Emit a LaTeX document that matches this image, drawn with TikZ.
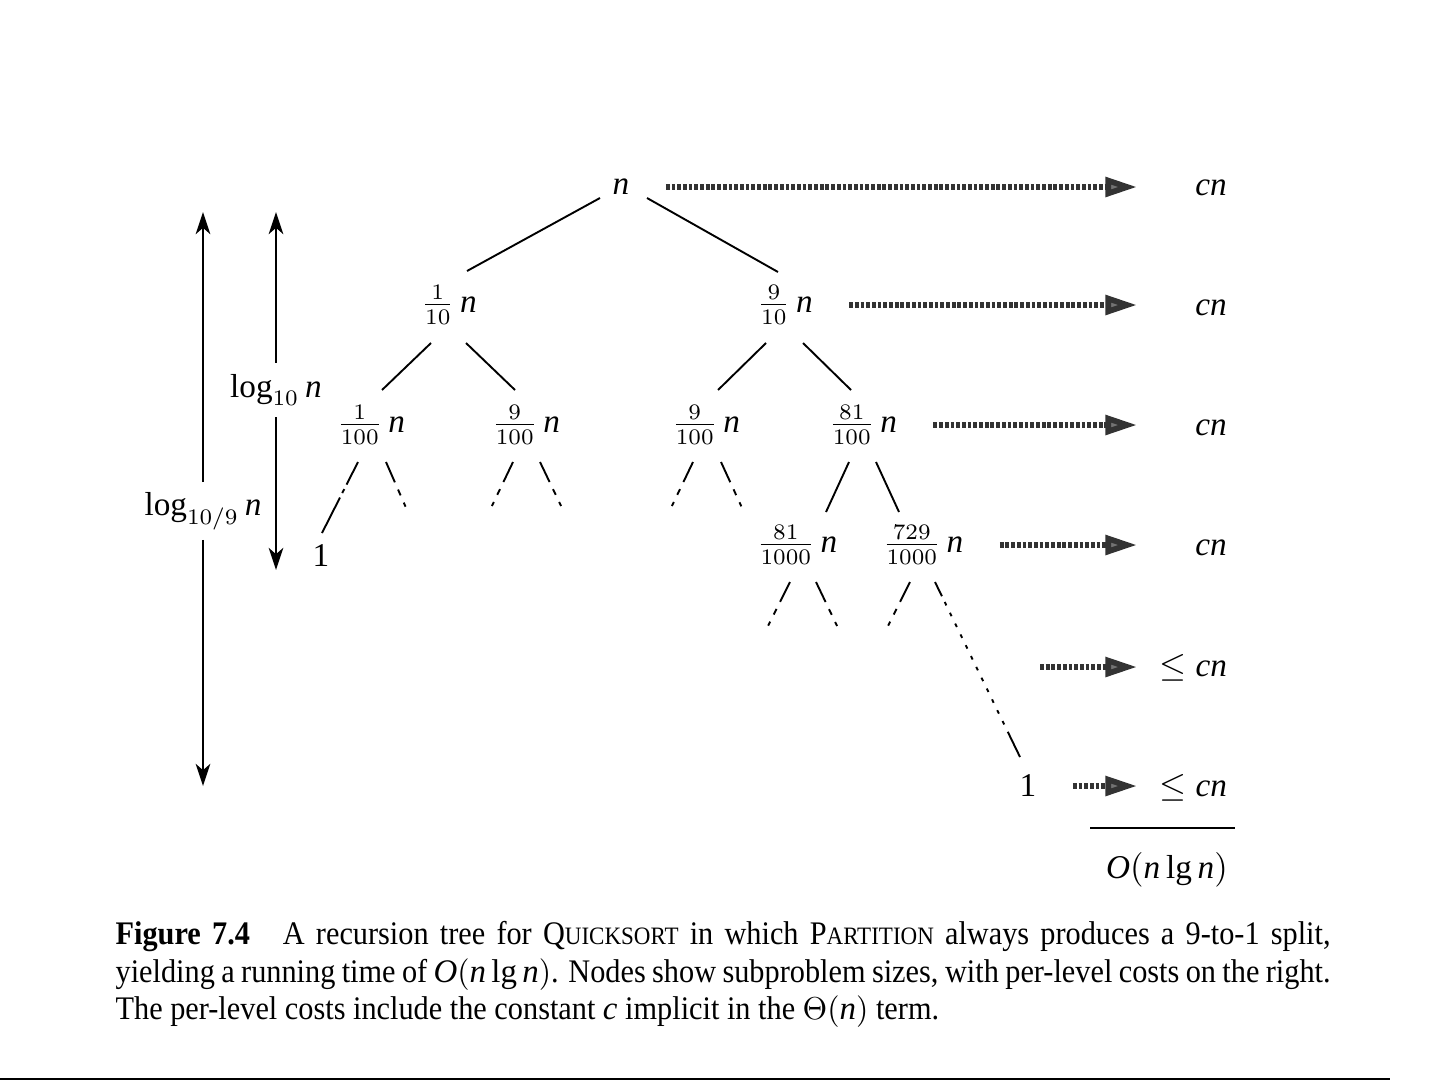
\documentclass[tikz,border=0pt]{standalone}
\usepackage{amsmath}
\usepackage{fontspec}
\setmainfont{Liberation Serif}
\newfontfamily\capfont{Liberation Serif}[FakeStretch=0.92]
\usetikzlibrary{arrows.meta}

\newcommand{\nn}{\mathit{n}}
\newcommand{\fakesc}[2]{#1{\fontsize{7.9}{9}\selectfont #2}}

\begin{document}
\begin{tikzpicture}[x=0.3158pt, y=-0.3158pt,
    every node/.style={font=\fontsize{10.5}{12.6}\selectfont},
    edge/.style={line width=0.6pt},
    stub/.style={edge, dash pattern=on 7pt off 2.5pt on 2pt off 2.5pt on 1.4pt off 2.5pt on 0.9pt off 30pt},
    cost/.style={line width=1.8pt, black!80, dash pattern=on 1.2pt off 0.6pt, shorten <=8pt,
        -{Triangle[length=10pt,width=6pt,fill=black!55]}},
    height/.style={line width=0.5pt, -{Stealth[length=7pt,width=4.6pt,inset=2pt]}}]
    \useasboundingbox (0,0) rectangle (1441,1081);

    % the tree
    \node (root) at (621,187) {$\nn$};
    \node (l1) at (449,305) {$\frac{1}{10}\,\nn$};
    \node (r1) at (785,305) {$\frac{9}{10}\,\nn$};
    \node (a) at (371,425) {$\frac{1}{100}\,\nn$};
    \node (b) at (526,425) {$\frac{9}{100}\,\nn$};
    \node (c) at (706,425) {$\frac{9}{100}\,\nn$};
    \node (d) at (863,425) {$\frac{81}{100}\,\nn$};
    \node (e) at (797,545) {$\frac{81}{1000}\,\nn$};
    \node (f) at (923,545) {$\frac{729}{1000}\,\nn$};
    \node (leafl) at (321,556) {1};
    \node (leafr) at (1028,786) {1};

    % edges between the levels
    \draw[edge] ([shift={(-21,11)}]root.center) -- ([shift={(18,-34)}]l1.center);
    \draw[edge] ([shift={(26,11)}]root.center) -- ([shift={(-7,-33)}]r1.center);
    \draw[edge] ([shift={(-18,38)}]l1.center) -- ([shift={(11,-35)}]a.center);
    \draw[edge] ([shift={(17,38)}]l1.center) -- ([shift={(-11,-35)}]b.center);
    \draw[edge] ([shift={(-19,38)}]r1.center) -- ([shift={(12,-35)}]c.center);
    \draw[edge] ([shift={(18,38)}]r1.center) -- ([shift={(-12,-35)}]d.center);
    \draw[edge] ([shift={(-14,37)}]d.center) -- ([shift={(29,-33)}]e.center);
    \draw[edge] ([shift={(13,37)}]d.center) -- ([shift={(-24,-33)}]f.center);

    % the cut-off branches
    \draw[edge, dash pattern=on 8pt off 1.6pt on 1.4pt off 1.6pt on 20pt]
        ([shift={(-13,37)}]a.center) -- ([shift={(1,-23)}]leafl.center);
    \draw[stub] ([shift={(15,37)}]a.center) -- ++(21,48) coordinate (a2);
    \draw[stub] ([shift={(-13,37)}]b.center) -- ++(-23,48) coordinate (b1);
    \draw[stub] ([shift={(14,37)}]b.center) -- ++(23,48) coordinate (b2);
    \draw[stub] ([shift={(-13,37)}]c.center) -- ++(-23,48) coordinate (c1);
    \draw[stub] ([shift={(15,37)}]c.center) -- ++(22,48) coordinate (c2);
    \draw[stub] ([shift={(-7,37)}]e.center) -- ++(-24,48) coordinate (e1);
    \draw[stub] ([shift={(19,37)}]e.center) -- ++(23,48) coordinate (e2);
    \draw[stub] ([shift={(-13,37)}]f.center) -- ++(-24,48) coordinate (f1);
    \draw[edge, dash pattern=on 5pt off 2pt on 1.2pt off 2.6pt on 1.2pt off 2.6pt on 1.2pt off 2.6pt
        on 1.2pt off 2.6pt on 1.2pt off 2.6pt on 1.2pt off 2.6pt on 1.2pt off 2.6pt on 1.2pt off 2.6pt
        on 1.2pt off 2.6pt on 1.2pt off 2.6pt on 1.2pt off 2.6pt on 1.2pt off 2.6pt on 30pt]
        ([shift={(12,37)}]f.center) -- ([shift={(-8,-29)}]leafr.center);

    % per-level costs
    \coordinate (tip) at (1137,0);
    \node (k0) at (1211,188) {$\mathit{cn}$};
    \node (k1) at (1211,308) {$\mathit{cn}$};
    \node (k2) at (1211,428) {$\mathit{cn}$};
    \node (k3) at (1211,548) {$\mathit{cn}$};
    \node (k4) at (1193,668) {$\le\mathit{cn}$};
    \node (k5) at (1193,788) {$\le\mathit{cn}$};
    \coordinate (s4) at (1040,667);
    \draw[cost] (root.east) -- (root.east -| tip);
    \draw[cost] (r1.east) -- (r1.east -| tip);
    \draw[cost] (d.east) -- (d.east -| tip);
    \draw[cost] (f.east) -- (f.east -| tip);
    \draw[cost, shorten <=0pt] (s4) -- (s4 -| tip);
    \draw[cost] (leafr.east) -- (leafr.east -| tip);
    \draw[line width=0.6pt] (1090,828) -- (1235,828);
    \node (total) at (1167,870) {$\mathit{O}(\nn\lg\nn)$};

    % tree heights
    \node[inner sep=3pt] (lg9) at (203,511) {$\log_{10/9}\nn$};
    \coordinate (h9top) at (203,212);
    \coordinate (h9bot) at (203,786);
    \draw[height] (lg9) -- (h9top);
    \draw[height] (lg9) -- (h9bot);
    \node (lg10) at (276,390) {$\log_{10}\nn$};
    \coordinate (h10top) at (276,212);
    \coordinate (h10bot) at (276,570);
    \draw[height] (lg10) -- (h10top);
    \draw[height] (lg10) -- (h10bot);

    % caption
    \node[anchor=north west, inner sep=0pt, text width=383.7pt, align=justify,
        font=\capfont\fontsize{10.4}{11.85}\selectfont] (cap) at (115,921)
        {\textbf{Figure 7.4}\quad A recursion tree for \fakesc{Q}{UICKSORT} in which \fakesc{P}{ARTITION}
        always produces a 9-to-1 split,\linebreak yielding a running time of $\mathit{O}(\nn\lg\nn)$.
        Nodes show subproblem sizes, with per-level costs on the right.\linebreak The per-level costs
        include the constant $\mathit{c}$ implicit in the $\Theta(\nn)$ term.};
    \draw[line width=0.9pt] (0,1079) -- (1390,1079);
\end{tikzpicture}
\end{document}
